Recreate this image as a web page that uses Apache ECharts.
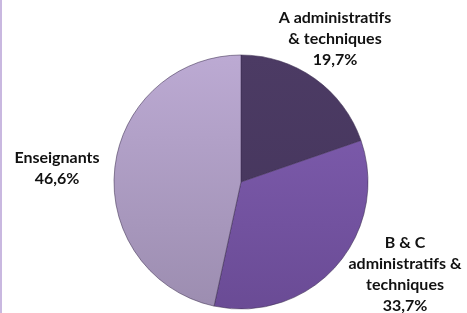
<!DOCTYPE html>
<html><head><meta charset="utf-8">
<script src="https://cdn.jsdelivr.net/npm/echarts@6/dist/echarts.min.js"></script>
<style>html,body{margin:0;padding:0;background:#fff}#c{width:467px;height:313px;border-left:2px solid #c9b8e0;box-sizing:border-box}</style>
</head><body><div id="c"></div>
<script>
const categories = ["A administratifs\n& techniques", "B & C\nadministratifs &\ntechniques", "Enseignants"];
const values = [19.7, 33.7, 46.6];
const valueLabels = ["19,7%", "33,7%", "46,6%"];

const cx = 239, cy = 182, R = 127;
const grad = (top, bottom) => ({type:'linear', x:0, y:cy-R, x2:0, y2:cy+R, global:true,
  colorStops:[{offset:0,color:top},{offset:1,color:bottom}]});
const colors = [grad('#4c3b64','#43345a'), grad('#8260b3','#6a4b95'), grad('#bcaad3','#9c8db0')];
const labelPos = [[333,39],[403,274],[55,168]];

const chart = echarts.init(document.getElementById('c'));
chart.setOption({
  animation:false,
  series:[{
    type:'pie', center:[cx,cy], radius:R, startAngle:90, clockwise:true,
    data: categories.map((n,i)=>({name:n, value:values[i],
      itemStyle:{color:colors[i], borderColor:'rgba(60,45,80,0.55)', borderWidth:1}})),
    label:{show:true, position:'outside', fontFamily:'Lato', fontWeight:'bold', fontSize:16,
      lineHeight:21, color:'#111', align:'center', overflow:'none', width:200,
      formatter:p=>p.name+'\n'+valueLabels[p.dataIndex]},
    labelLine:{show:false},
    labelLayout:p=>({x:labelPos[p.dataIndex][0], y:labelPos[p.dataIndex][1], align:'center', verticalAlign:'middle'})
  }]
});
</script></body></html>
